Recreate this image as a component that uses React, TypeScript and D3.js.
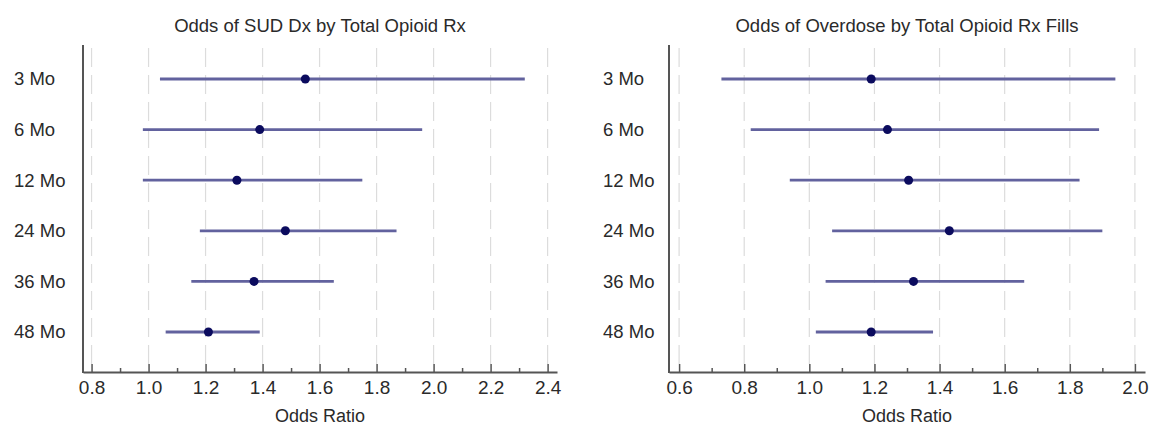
import * as d3 from 'd3';
import React, { useRef, useEffect } from 'react';

// rows, top to bottom
const months = ['3 Mo', '6 Mo', '12 Mo', '24 Mo', '36 Mo', '48 Mo'];

// SUD Dx panel
const sudOR = [1.55, 1.39, 1.31, 1.48, 1.37, 1.21];
const sudLow = [1.04, 0.98, 0.98, 1.18, 1.15, 1.06];
const sudHigh = [2.32, 1.96, 1.75, 1.87, 1.65, 1.39];
const sudTicks = [0.8, 1.0, 1.2, 1.4, 1.6, 1.8, 2.0, 2.2, 2.4];

// Overdose panel
const odOR = [1.19, 1.24, 1.305, 1.43, 1.32, 1.19];
const odLow = [0.73, 0.82, 0.94, 1.07, 1.05, 1.02];
const odHigh = [1.94, 1.89, 1.83, 1.9, 1.66, 1.38];
const odTicks = [0.6, 0.8, 1.0, 1.2, 1.4, 1.6, 1.8, 2.0];

interface PanelProps {
    title: string;
    or: number[];
    low: number[];
    high: number[];
    ticks: number[];
    domain: [number, number];
    left: number;
    right: number;
    labelX: number;
}

function drawPanel(root: d3.Selection<SVGSVGElement, unknown, null, undefined>, p: PanelProps) {
    const top = 45;
    const bottom = 372;
    const textColor = '#2a2a2a';
    const axisColor = '#555';
    const font = 'Arial, "Liberation Sans", sans-serif';

    const x = d3.scaleLinear().domain(p.domain).range([p.left, p.right]);
    const y = d3.scalePoint<string>().domain(months).range([79, 332]);

    const g = root.append('g');

    // dashed grid lines at major ticks
    g.append('g')
        .selectAll('line')
        .data(p.ticks)
        .join('line')
        .attr('x1', (d) => x(d))
        .attr('x2', (d) => x(d))
        .attr('y1', top + 3)
        .attr('y2', bottom - 2)
        .attr('stroke', '#dcdcdc')
        .attr('stroke-width', 1.2)
        .attr('stroke-dasharray', '19,8');

    // minor ticks (0.1 steps)
    const minor = d3.range(p.ticks.length - 1).map((i) => (p.ticks[i] + p.ticks[i + 1]) / 2);
    g.append('g')
        .attr('transform', `translate(0,${bottom})`)
        .call(d3.axisBottom(x).tickValues(minor).tickSizeInner(-4).tickSizeOuter(0).tickFormat(() => ''))
        .call((s) => s.select('.domain').remove())
        .selectAll('line')
        .attr('stroke', axisColor)
        .attr('stroke-width', 1.5);

    // major ticks + labels
    const ax = g.append('g')
        .attr('transform', `translate(0,${bottom})`)
        .call(d3.axisBottom(x).tickValues(p.ticks).tickSizeInner(-8).tickSizeOuter(0).tickPadding(9).tickFormat(d3.format('.1f')));
    ax.select('.domain').attr('stroke', axisColor).attr('stroke-width', 2);
    ax.selectAll('line').attr('stroke', axisColor).attr('stroke-width', 1.5);
    ax.selectAll('text')
        .attr('fill', textColor)
        .style('font-family', font)
        .style('font-size', '19px');

    // y axis line
    g.append('line')
        .attr('x1', p.left)
        .attr('x2', p.left)
        .attr('y1', top)
        .attr('y2', bottom + 1)
        .attr('stroke', axisColor)
        .attr('stroke-width', 2);

    // row labels, left aligned
    g.append('g')
        .selectAll('text')
        .data(months)
        .join('text')
        .attr('x', p.labelX)
        .attr('y', (d) => y(d) as number)
        .attr('dy', '0.35em')
        .attr('fill', textColor)
        .style('font-family', font)
        .style('font-size', '18.5px')
        .text((d) => d);

    // confidence intervals
    g.append('g')
        .selectAll('line')
        .data(months)
        .join('line')
        .attr('x1', (_, i) => x(p.low[i]))
        .attr('x2', (_, i) => x(p.high[i]))
        .attr('y1', (d) => y(d) as number)
        .attr('y2', (d) => y(d) as number)
        .attr('stroke', '#62629e')
        .attr('stroke-width', 2.8);

    // point estimates
    g.append('g')
        .selectAll('circle')
        .data(months)
        .join('circle')
        .attr('cx', (_, i) => x(p.or[i]))
        .attr('cy', (d) => y(d) as number)
        .attr('r', 4.5)
        .attr('fill', '#0b0b5e');

    // title
    g.append('text')
        .attr('x', (p.left + p.right) / 2)
        .attr('y', 32)
        .attr('text-anchor', 'middle')
        .attr('fill', textColor)
        .style('font-family', font)
        .style('font-size', '18.5px')
        .text(p.title);

    // x axis title
    g.append('text')
        .attr('x', (p.left + p.right) / 2)
        .attr('y', 422)
        .attr('text-anchor', 'middle')
        .attr('fill', textColor)
        .style('font-family', font)
        .style('font-size', '18px')
        .text('Odds Ratio');
}

export default function App() {
    const svgRef = useRef<SVGSVGElement | null>(null);

    useEffect(() => {
        const svg = d3.select(svgRef.current as SVGSVGElement);
        svg.selectAll('*').remove();

        svg.append('rect').attr('width', 1150).attr('height', 425).attr('fill', '#fff');

        drawPanel(svg, {
            title: 'Odds of SUD Dx by Total Opioid Rx',
            or: sudOR,
            low: sudLow,
            high: sudHigh,
            ticks: sudTicks,
            domain: [0.77, 2.433],
            left: 83,
            right: 557,
            labelX: 14,
        });

        drawPanel(svg, {
            title: 'Odds of Overdose by Total Opioid Rx Fills',
            or: odOR,
            low: odLow,
            high: odHigh,
            ticks: odTicks,
            domain: [0.569, 2.031],
            left: 669,
            right: 1145,
            labelX: 603,
        });
    }, []);

    return (
        <svg
            ref={svgRef}
            width={1150}
            height={425}
            style={{ position: 'absolute', left: 0, top: 0 }}
        ></svg>
    );
}
